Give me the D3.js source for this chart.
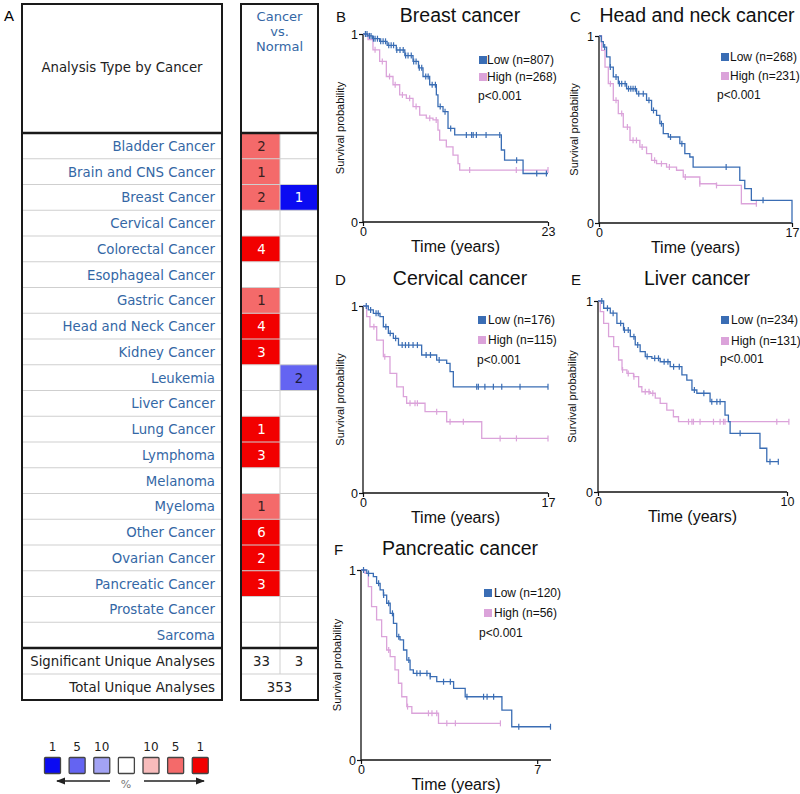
<!DOCTYPE html>
<html><head><meta charset="utf-8">
<script src="https://cdn.jsdelivr.net/npm/d3@7"></script>
<style>body{margin:0;background:#fff}</style>
</head><body>
<svg id="c" width="800" height="794"></svg>
<script>
// ---------- Panel A data ----------
const cancerTypes = ["Bladder Cancer","Brain and CNS Cancer","Breast Cancer","Cervical Cancer","Colorectal Cancer","Esophageal Cancer","Gastric Cancer","Head and Neck Cancer","Kidney Cancer","Leukemia","Liver Cancer","Lung Cancer","Lymphoma","Melanoma","Myeloma","Other Cancer","Ovarian Cancer","Pancreatic Cancer","Prostate Cancer","Sarcoma"];
const overCounts  = [2,1,2,0,4,0,1,4,3,0,0,1,3,0,1,6,2,3,0,0];
const overLevels  = [5,5,5,0,1,0,5,1,1,0,0,1,1,0,5,1,1,1,0,0];
const underCounts = [0,0,1,0,0,0,0,0,0,2,0,0,0,0,0,0,0,0,0,0];
const underLevels = [0,0,1,0,0,0,0,0,0,5,0,0,0,0,0,0,0,0,0,0];
const significantCounts = [33,3];
const totalAnalyses = 353;
const legendLevels = [["under",1],["under",5],["under",10],["none",0],["over",10],["over",5],["over",1]];

// ---------- KM data: [time, survival] steps; censor times ----------
const breastLow = [[0,1],[0.6,0.99],[1.2,0.975],[2.07,0.961],[3.0,0.94],[4.14,0.915],[5.2,0.885],[6.22,0.854],[6.9,0.82],[7.46,0.774],[8.29,0.73],[9.12,0.676],[9.32,0.614],[9.95,0.587],[10.57,0.498],[11.4,0.463],[17.2,0.383],[17.6,0.329],[19.9,0.258],[23,0.258]];
const breastLowCensor = [0.3,0.5,0.8,1,1.3,1.5,1.8,2.2,2.5,2.8,3.2,3.5,3.8,4.2,4.6,5,5.3,5.6,6,6.3,6.6,7,7.3,7.8,8.1,8.6,9.0,9.6,10.2,10.9,12.85,13.5,13.7,14.1,15.3,17.0,19.1,21.6,22.8];
const breastHigh = [[0,1],[0.62,0.97],[1.24,0.916],[2.07,0.854],[2.9,0.774],[3.73,0.73],[4.56,0.676],[5.39,0.658],[6.22,0.614],[7.05,0.569],[7.87,0.552],[8.7,0.543],[9.32,0.489],[9.53,0.436],[10.36,0.4],[11.19,0.356],[11.81,0.311],[12.02,0.276],[23,0.276]];
const breastHighCensor = [1.5,2.4,3.3,4.0,4.9,5.8,6.6,8.3,9.1,13.26,19.06,23];

const headLow = [[0,1],[0.2,0.97],[0.38,0.941],[0.67,0.888],[0.97,0.834],[1.26,0.781],[1.7,0.745],[2.43,0.718],[3.31,0.691],[4.19,0.656],[4.63,0.602],[5.07,0.576],[5.36,0.531],[5.66,0.478],[6.1,0.46],[7.12,0.424],[7.56,0.371],[8.0,0.353],[8.29,0.299],[12.4,0.228],[12.84,0.184],[13.42,0.121],[17,0]];
const headLowCensor = [0.5,1.0,1.5,1.8,2.0,2.3,2.6,2.8,3.0,3.2,3.5,3.9,4.4,4.8,5.5,6.3,7.3,11.2,14.45];
const headHigh = [[0,1],[0.23,0.923],[0.53,0.834],[0.82,0.745],[1.26,0.656],[1.7,0.585],[2.14,0.513],[2.73,0.442],[3.6,0.406],[4.19,0.371],[4.63,0.335],[5.07,0.317],[5.95,0.299],[6.83,0.282],[7.42,0.246],[8.88,0.21],[10.35,0.201],[12.54,0.103],[13.92,0.103]];
const headHighCensor = [1.0,1.5,2.0,2.5,3.0,3.3,3.8,4.9,5.5,6.2,7.6,8.88,10.35,13.86];

const cervicalLow = [[0,1],[0.49,0.979],[0.95,0.961],[1.56,0.943],[1.87,0.889],[2.33,0.854],[2.79,0.827],[3.26,0.791],[5.39,0.738],[6.77,0.711],[7.69,0.693],[8.0,0.649],[8.3,0.568],[17,0.568]];
const cervicalLowCensor = [0.3,0.7,1.2,1.4,2.1,2.5,3.0,3.6,3.9,4.2,4.6,5.0,5.8,6.2,7.0,10.45,10.6,11.2,11.98,12.75,14.43,17];
const cervicalHigh = [[0,1],[0.34,0.943],[0.64,0.889],[1.26,0.818],[1.87,0.729],[2.48,0.64],[3.1,0.568],[3.71,0.515],[4.01,0.48],[5.7,0.435],[7.69,0.381],[10.91,0.292],[17,0.292]];
const cervicalHighCensor = [1.0,2.0,4.32,4.78,5.0,6.77,8.0,9.22,12.6,14.1,17];

const liverLow = [[0,1],[0.3,0.962],[0.65,0.936],[1.0,0.883],[1.35,0.848],[1.71,0.813],[1.97,0.77],[2.23,0.735],[2.5,0.709],[2.85,0.7],[3.29,0.682],[3.82,0.656],[4.44,0.613],[4.7,0.586],[4.97,0.534],[5.23,0.517],[5.93,0.473],[6.72,0.403],[6.9,0.368],[6.99,0.307],[8.57,0.229],[8.93,0.159],[9.54,0.159]];
const liverLowCensor = [0.2,0.5,0.8,1.2,1.4,1.6,1.9,2.1,2.6,3.0,3.2,3.5,3.7,4.0,4.3,5.1,5.6,6.02,6.29,6.46,7.52,9.1,9.54];
const liverHigh = [[0,1],[0.12,0.944],[0.3,0.883],[0.56,0.813],[0.83,0.761],[1.09,0.691],[1.27,0.639],[1.53,0.621],[1.88,0.604],[2.15,0.551],[2.32,0.525],[2.76,0.517],[3.03,0.491],[3.29,0.464],[3.64,0.429],[3.99,0.394],[4.26,0.368],[10.1,0.368]];
const liverHighCensor = [1.3,1.6,1.9,2.5,2.7,2.9,4.79,4.97,5.05,5.4,6.11,6.46,6.64,6.72,9.46,10.1];

const pancLow = [[0,1],[0.23,0.982],[0.49,0.965],[0.62,0.93],[0.76,0.895],[0.89,0.868],[1.02,0.825],[1.16,0.772],[1.29,0.719],[1.42,0.649],[1.55,0.632],[1.69,0.579],[1.82,0.526],[1.95,0.474],[2.08,0.456],[2.75,0.439],[3.01,0.412],[3.68,0.377],[4.14,0.333],[5.6,0.263],[5.99,0.175],[7.53,0.175]];
const pancLowCensor = [0.1,0.3,0.7,0.9,1.1,1.25,1.5,1.9,2.22,2.35,2.62,2.75,3.28,3.55,4.21,4.87,5.01,5.27,6.27,7.53];
const pancHigh = [[0,1],[0.16,0.982],[0.29,0.912],[0.42,0.807],[0.62,0.737],[0.82,0.649],[1.02,0.579],[1.16,0.544],[1.35,0.474],[1.49,0.404],[1.62,0.333],[1.82,0.281],[2.02,0.246],[3.08,0.193],[5.54,0.193]];
const pancHighCensor = [1.1,1.85,2.68,2.82,3.01,3.41,3.75,5.54];

const panelTitles = ["Breast cancer","Head and neck cancer","Cervical cancer","Liver cancer","Pancreatic cancer"];
const panelLetters = ["B","C","D","E","F"];
const lowN = [807,268,176,234,120];
const highN = [268,231,115,131,56];
const pValues = ["p<0.001","p<0.001","p<0.001","p<0.001","p<0.001"];
const xMaxTicks = [23,17,17,10,7];

// ---------- drawing ----------
const svg = d3.select("#c");
const blueTxt = "#3467a5";
const overColor = {1:"#f20000",5:"#f46a6a",10:"#f8bcbc"};
const underColor = {1:"#0b0bf2",5:"#6464f2",10:"#a3a3f4"};

// Panel A
svg.append("text").attr("x",4).attr("y",21).attr("font-family","Liberation Sans, Arial").attr("font-size",15).text("A");
const fA = "DejaVu Sans, Verdana, sans-serif";
const fsA = 13.3;
const L = {x0:22,x1:222}, R = {x0:241,xm:280,x1:318};
const yTop = 4, yHead = 133, yRowsEnd = 648, ySig = 674, yBot = 700;
const rowScale = d3.scaleBand().domain(cancerTypes).range([yHead, yRowsEnd]);
const bw = rowScale.bandwidth();

cancerTypes.forEach((c,i)=>{
  const y = rowScale(c);
  if (overCounts[i]>0){
    svg.append("rect").attr("x",R.x0).attr("y",y).attr("width",R.xm-R.x0).attr("height",bw).attr("fill",overColor[overLevels[i]]);
  }
  if (underCounts[i]>0){
    svg.append("rect").attr("x",R.xm).attr("y",y).attr("width",R.x1-R.xm).attr("height",bw).attr("fill",underColor[underLevels[i]]);
  }
});
cancerTypes.forEach((c,i)=>{
  if(i===0) return;
  const y = rowScale(c);
  svg.append("line").attr("x1",L.x0).attr("x2",L.x1).attr("y1",y).attr("y2",y).attr("stroke","#cfcfcf").attr("stroke-width",1);
  svg.append("line").attr("x1",R.x0).attr("x2",R.x1).attr("y1",y).attr("y2",y).attr("stroke","#cfcfcf").attr("stroke-width",1);
});
[ySig].forEach(y=>{
  svg.append("line").attr("x1",L.x0).attr("x2",L.x1).attr("y1",y).attr("y2",y).attr("stroke","#cfcfcf");
  svg.append("line").attr("x1",R.x0).attr("x2",R.x1).attr("y1",y).attr("y2",y).attr("stroke","#cfcfcf");
});
svg.append("line").attr("x1",R.xm).attr("x2",R.xm).attr("y1",yHead).attr("y2",ySig).attr("stroke","#cfcfcf");
svg.append("g").selectAll("text").data(cancerTypes).join("text")
  .attr("x",215).attr("y",d=>rowScale(d)+bw/2+5).attr("text-anchor","end")
  .attr("font-family",fA).attr("font-size",fsA).attr("fill",blueTxt).text(d=>d);
cancerTypes.forEach((c,i)=>{
  const y = rowScale(c)+bw/2+5;
  if (overCounts[i]>0) svg.append("text").attr("x",(R.x0+R.xm)/2+1).attr("y",y).attr("text-anchor","middle")
     .attr("font-family",fA).attr("font-size",fsA).attr("fill",overLevels[i]===1?"#fff":"#3a2020").text(overCounts[i]);
  if (underCounts[i]>0) svg.append("text").attr("x",(R.xm+R.x1)/2).attr("y",y).attr("text-anchor","middle")
     .attr("font-family",fA).attr("font-size",fsA).attr("fill",underLevels[i]===1?"#fff":"#1a1a40").text(underCounts[i]);
});
svg.append("text").attr("x",215).attr("y",(yRowsEnd+ySig)/2+5).attr("text-anchor","end").attr("font-family",fA).attr("font-size",fsA).attr("fill","#222").text("Significant Unique Analyses");
svg.append("text").attr("x",215).attr("y",(ySig+yBot)/2+5).attr("text-anchor","end").attr("font-family",fA).attr("font-size",fsA).attr("fill","#222").text("Total Unique Analyses");
svg.append("text").attr("x",(R.x0+R.xm)/2+1).attr("y",(yRowsEnd+ySig)/2+5).attr("text-anchor","middle").attr("font-family",fA).attr("font-size",fsA).attr("fill","#222").text(significantCounts[0]);
svg.append("text").attr("x",(R.xm+R.x1)/2).attr("y",(yRowsEnd+ySig)/2+5).attr("text-anchor","middle").attr("font-family",fA).attr("font-size",fsA).attr("fill","#222").text(significantCounts[1]);
svg.append("text").attr("x",(R.x0+R.x1)/2).attr("y",(ySig+yBot)/2+5).attr("text-anchor","middle").attr("font-family",fA).attr("font-size",fsA).attr("fill","#222").text(totalAnalyses);
svg.append("text").attr("x",(L.x0+L.x1)/2).attr("y",72).attr("text-anchor","middle").attr("font-family",fA).attr("font-size",fsA).attr("fill","#222").text("Analysis Type by Cancer");
["Cancer","vs.","Normal"].forEach((t,i)=>{
  svg.append("text").attr("x",(R.x0+R.x1)/2).attr("y",21+i*15).attr("text-anchor","middle").attr("font-family",fA).attr("font-size",13).attr("fill",blueTxt).text(t);
});
[L,R].forEach(b=>{
  svg.append("rect").attr("x",b.x0).attr("y",yTop).attr("width",b.x1-b.x0).attr("height",yBot-yTop).attr("fill","none").attr("stroke","#1a1a1a").attr("stroke-width",2);
  [yHead,yRowsEnd].forEach(y=>svg.append("line").attr("x1",b.x0).attr("x2",b.x1).attr("y1",y).attr("y2",y).attr("stroke","#1a1a1a").attr("stroke-width",2.5));
});
// legend
const legX = d3.scaleBand().domain(d3.range(legendLevels.length)).range([44,209]).paddingInner(0.3);
legendLevels.forEach((d,i)=>{
  const col = d[0]==="over"?overColor[d[1]]:d[0]==="under"?underColor[d[1]]:"#fff";
  svg.append("rect").attr("x",legX(i)+0.5).attr("y",757.5).attr("width",16).attr("height",16).attr("fill",col).attr("stroke","#444").attr("stroke-width",1.3).attr("rx",1);
  if(d[1]) svg.append("text").attr("x",legX(i)+8.5).attr("y",751).attr("text-anchor","middle").attr("font-family",fA).attr("font-size",12).attr("fill","#222").text(d[1]);
});
svg.append("defs").append("marker").attr("id","ah").attr("viewBox","0 0 10 10").attr("refX",9).attr("refY",5)
  .attr("markerWidth",7).attr("markerHeight",7).attr("orient","auto-start-reverse")
  .append("path").attr("d","M0,1 L10,5 L0,9 z").attr("fill","#222");
svg.append("line").attr("x1",110).attr("x2",57).attr("y1",781).attr("y2",781).attr("stroke","#222").attr("stroke-width",1.3).attr("marker-end","url(#ah)");
svg.append("line").attr("x1",144).attr("x2",204).attr("y1",781).attr("y2",781).attr("stroke","#222").attr("stroke-width",1.3).attr("marker-end","url(#ah)");
svg.append("text").attr("x",126).attr("y",788).attr("text-anchor","middle").attr("font-family",fA).attr("font-size",11).attr("fill","#777").text("%");

// ---------- KM panels ----------
const fK = "Liberation Sans, Arial, sans-serif";
const BLUE = "#3a6db4", PINK = "#dba3da";
const layouts = [
  {lx:336,ly:22,tx:460,ty:22,x0:363,x1:548,y0:34,y1:222,xMax:23,ylx:344,sqx:479,txx:486,rows:[60,77,96],px:478},
  {lx:570,ly:22,tx:697,ty:22,x0:599,x1:792,y0:36,y1:223,xMax:17,ylx:578,sqx:721,txx:729,rows:[57,76,95],px:717},
  {lx:335,ly:285,tx:460,ty:285,x0:363,x1:548,y0:306,y1:493,xMax:17,ylx:344,sqx:478,txx:487,rows:[320,340,360],px:477},
  {lx:571,ly:285,tx:697,ty:285,x0:598,x1:787,y0:301,y1:492,xMax:10,ylx:576,sqx:721,txx:730,rows:[320,341,359],px:720},
  {lx:334,ly:555,tx:460,ty:555,x0:361,x1:551,y0:570,y1:760,xMax:7.55,ylx:341,sqx:484,txx:493,rows:[593,613,633],px:479}
];
const curves = [
  [breastLow,breastLowCensor,breastHigh,breastHighCensor],
  [headLow,headLowCensor,headHigh,headHighCensor],
  [cervicalLow,cervicalLowCensor,cervicalHigh,cervicalHighCensor],
  [liverLow,liverLowCensor,liverHigh,liverHighCensor],
  [pancLow,pancLowCensor,pancHigh,pancHighCensor]
];
function survAt(curve,t){ let s=curve[0][1]; for(const p of curve){ if(p[0]<=t) s=p[1]; } return s; }

layouts.forEach((lay,k)=>{
  const g = svg.append("g");
  const x = d3.scaleLinear().domain([0,lay.xMax]).range([lay.x0,lay.x1]);
  const y = d3.scaleLinear().domain([0,1]).range([lay.y1,lay.y0]);
  g.append("text").attr("x",lay.lx).attr("y",lay.ly).attr("font-family",fK).attr("font-size",15).attr("fill","#111").text(panelLetters[k]);
  g.append("text").attr("x",lay.tx).attr("y",lay.ty).attr("text-anchor","middle").attr("font-family",fK).attr("font-size",19.5).attr("fill","#111").text(panelTitles[k]);
  const ya = d3.axisLeft(y).tickValues([0,1]).tickFormat(d3.format("d")).tickSize(4).tickPadding(1);
  const xa = d3.axisBottom(x).tickValues([0,xMaxTicks[k]]).tickFormat(d3.format("d")).tickSize(4).tickPadding(1);
  const gy = g.append("g").attr("transform",`translate(${lay.x0},0)`).call(ya);
  const gx = g.append("g").attr("transform",`translate(0,${lay.y1})`).call(xa);
  [gx,gy].forEach(a=>{
    a.select(".domain").attr("stroke","#111").attr("stroke-width",1.3).attr("d", a===gx?`M${lay.x0},0H${lay.x1}`:`M0,${lay.y1}V${lay.y0}`);
    a.selectAll(".tick line").attr("stroke","#111").attr("stroke-width",1.2);
    a.selectAll(".tick text").attr("font-family",fK).attr("font-size",12.5).attr("fill","#111");
  });
  g.append("text").attr("x",(lay.x0+lay.x1)/2).attr("y",lay.y1+30).attr("text-anchor","middle").attr("font-family",fK).attr("font-size",16).attr("fill","#111").text("Time (years)");
  g.append("text").attr("transform",`translate(${lay.ylx},${(lay.y0+lay.y1)/2}) rotate(-90)`).attr("text-anchor","middle").attr("font-family",fK).attr("font-size",11).attr("fill","#111").text("Survival probability");
  const line = d3.line().x(d=>x(d[0])).y(d=>y(d[1])).curve(d3.curveStepAfter);
  const [lo,loC,hi,hiC] = curves[k];
  [[hi,hiC,PINK],[lo,loC,BLUE]].forEach(([c,cs,col])=>{
    g.append("path").datum(c).attr("d",line).attr("fill","none").attr("stroke",col).attr("stroke-width",1.3);
    g.append("g").selectAll("line").data(cs).join("line")
      .attr("x1",d=>x(d)).attr("x2",d=>x(d)).attr("y1",d=>y(survAt(c,d))-3).attr("y2",d=>y(survAt(c,d))+3)
      .attr("stroke",col).attr("stroke-width",1.2);
  });
  g.append("rect").attr("x",lay.sqx).attr("y",lay.rows[0]-4).attr("width",8).attr("height",8).attr("fill",BLUE);
  g.append("rect").attr("x",lay.sqx).attr("y",lay.rows[1]-4).attr("width",8).attr("height",8).attr("fill",PINK);
  g.append("text").attr("x",lay.txx+1).attr("y",lay.rows[0]+4).attr("font-family",fK).attr("font-size",12).attr("fill","#111").text(`Low (n=${lowN[k]})`);
  g.append("text").attr("x",lay.txx+1).attr("y",lay.rows[1]+4).attr("font-family",fK).attr("font-size",12).attr("fill","#111").text(`High (n=${highN[k]})`);
  g.append("text").attr("x",lay.px).attr("y",lay.rows[2]+4).attr("font-family",fK).attr("font-size",12).attr("fill","#111").text(pValues[k]);
});
</script>
</body></html>
